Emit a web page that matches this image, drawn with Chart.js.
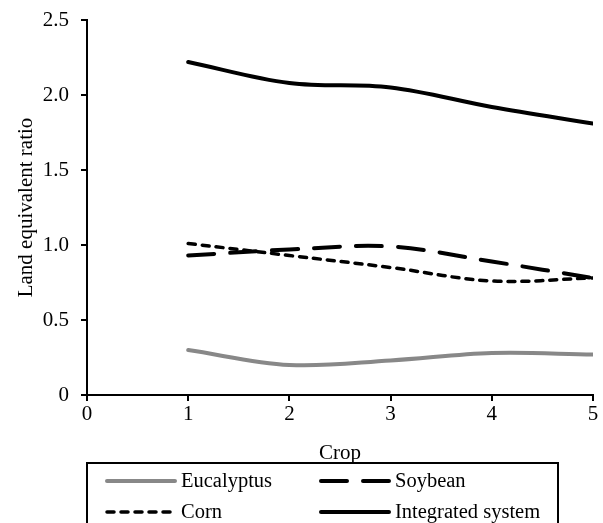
<!DOCTYPE html>
<html>
<head>
<meta charset="utf-8">
<script src="https://cdn.jsdelivr.net/npm/chart.js@4.4.0/dist/chart.umd.min.js"></script>
<style>
  html, body { margin: 0; padding: 0; background: #fff; }
  #wrap { width: 603px; height: 523px; }
</style>
</head>
<body>
<div id="wrap"><canvas id="c" width="603" height="523"></canvas></div>
<script>
// Data
const crops = [1, 2, 3, 4, 5];
const eucalyptus = [0.30, 0.20, 0.23, 0.28, 0.27];
const soybean = [0.93, 0.97, 0.99, 0.89, 0.78];
const corn = [1.01, 0.93, 0.85, 0.76, 0.78];
const integrated = [2.22, 2.08, 2.05, 1.92, 1.81];

const FONT = 'Liberation Serif, Times New Roman, serif';

function pts(vals) {
  return crops.map((c, i) => ({ x: c, y: vals[i] }));
}

// Boxed two-column legend under the axis title
const boxLegend = {
  id: 'boxLegend',
  afterDraw(chart) {
    const ctx = chart.ctx;
    const ds = chart.data.datasets;
    const left = 87, right = 558, top = 463;
    ctx.save();
    ctx.strokeStyle = '#000';
    ctx.lineWidth = 2;
    ctx.strokeRect(left, top, right - left, 80);
    const cols = [107, 321];
    const rows = [481, 512];
    ctx.font = '20.5px ' + FONT;
    ctx.textBaseline = 'middle';
    ctx.fillStyle = '#000';
    ds.forEach((d, i) => {
      const x = cols[i % 2], y = rows[Math.floor(i / 2)];
      ctx.beginPath();
      ctx.strokeStyle = d.borderColor;
      ctx.lineWidth = d.borderWidth;
      ctx.lineCap = d.borderCapStyle || 'butt';
      ctx.setLineDash(d.borderDash || []);
      ctx.moveTo(x, y);
      ctx.lineTo(x + 68, y);
      ctx.stroke();
      ctx.setLineDash([]);
      ctx.fillText(d.label, x + 74, y + 1);
    });
    ctx.restore();
  }
};

new Chart(document.getElementById('c'), {
  type: 'line',
  data: {
    datasets: [
      { label: 'Eucalyptus', data: pts(eucalyptus), borderColor: '#888888', borderWidth: 4, borderCapStyle: 'round' },
      { label: 'Soybean', data: pts(soybean), borderColor: '#000', borderWidth: 4, borderDash: [26, 16], borderCapStyle: 'round' },
      { label: 'Corn', data: pts(corn), borderColor: '#000', borderWidth: 3.5, borderDash: [7, 7], borderCapStyle: 'round' },
      { label: 'Integrated system', data: pts(integrated), borderColor: '#000', borderWidth: 4, borderCapStyle: 'round' }
    ]
  },
  options: {
    responsive: false,
    animation: false,
    devicePixelRatio: 1,
    elements: {
      point: { radius: 0 },
      line: { tension: 0.35, fill: false }
    },
    layout: { padding: { left: 0, right: 10, top: 20, bottom: 57 } },
    plugins: {
      legend: { display: false },
      tooltip: { enabled: false }
    },
    scales: {
      x: {
        type: 'linear',
        min: 0,
        max: 5,
        ticks: { stepSize: 1, color: '#000', font: { family: FONT, size: 21 }, padding: 1 },
        grid: { drawOnChartArea: false, drawTicks: true, tickLength: 6, color: '#000', lineWidth: 2 },
        border: { color: '#000', width: 2 },
        title: { display: true, text: 'Crop', color: '#000', font: { family: FONT, size: 21 }, padding: { top: 4, bottom: 0 } },
        afterFit(s) { s.height = 71; }
      },
      y: {
        min: 0,
        max: 2.5,
        ticks: {
          stepSize: 0.5,
          color: '#000',
          font: { family: FONT, size: 21 },
          padding: 12,
          callback: v => (v === 0 ? '0' : v.toFixed(1))
        },
        grid: { drawOnChartArea: false, drawTicks: true, tickLength: 6, color: '#000', lineWidth: 2 },
        border: { color: '#000', width: 2 },
        title: { display: true, text: 'Land equivalent ratio', color: '#000', font: { family: FONT, size: 21 }, padding: { top: 14, bottom: 0 } },
        afterFit(s) { s.width = 87; s.paddingTop = 0; s.paddingBottom = 0; }
      }
    }
  },
  plugins: [boxLegend]
});
</script>
</body>
</html>
